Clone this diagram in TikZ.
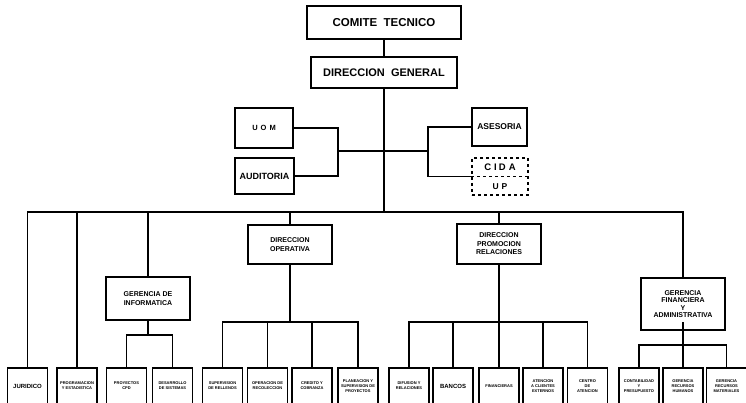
\documentclass[tikz,border=0pt]{standalone}
\usepackage{fontspec}
\setmainfont{Liberation Sans}

\tikzset{
    box/.style={draw, line width=1.2pt, fill=white, align=center, inner sep=1pt, font=\bfseries},
    midbox/.style={box, minimum width=84pt, font=\fontsize{7}{8.5}\selectfont\bfseries},
    unit/.style={box, minimum width=40pt, minimum height=36pt, font=\fontsize{4}{5.2}\selectfont\bfseries},
    link/.style={line width=1.2pt}
}

\begin{document}
\begin{tikzpicture}[x=1pt, y=-1pt]
            \clip (0,0) rectangle (746,403);

            %top of the chart
            \node[box, minimum width=154pt, minimum height=33pt, font=\fontsize{11.5}{13}\selectfont\bfseries] (comite) at (384,22.5) {COMITE\ \ TECNICO};
            \node[box, minimum width=146pt, minimum height=31pt, font=\fontsize{11}{13}\selectfont\bfseries] (dg) at (384,72.5) {DIRECCION\ \ GENERAL};

            %staff boxes
            \node[box, minimum width=58pt, minimum height=40pt, font=\fontsize{7.5}{9}\selectfont\bfseries] (uom) at (264,128) {U\hspace{3pt}O\hspace{3pt}M};
            \node[box, minimum width=59pt, minimum height=36pt, font=\fontsize{9}{10}\selectfont\bfseries] (aud) at (264.5,176) {AUDITORIA};
            \node[box, minimum width=55pt, minimum height=38pt, font=\fontsize{8.5}{10}\selectfont\bfseries] (ase) at (499.5,127) {ASESORIA};
            \node[box, dashed, minimum width=56pt, minimum height=37pt] (cida) at (500,176.5) {};
            \draw[dashed, line width=1.2pt] (cida.west) -- (cida.east);
            \node[font=\fontsize{9.5}{11}\selectfont\bfseries] (cidatxt) at (500,167.5) {C\hspace{3pt}I\hspace{2pt}D\hspace{3pt}A};
            \node[font=\fontsize{8.5}{10}\selectfont\bfseries] (uptxt) at (500,186.5) {U\hspace{3pt}P};

            %second level
            \node[midbox, minimum height=43pt] (ginf) at (148,298.5) {GERENCIA DE\\INFORMATICA};
            \node[midbox, minimum height=39pt] (dop) at (290,244.5) {DIRECCION\\OPERATIVA};
            \node[midbox, minimum height=40pt] (dpr) at (499,244) {DIRECCION\\PROMOCION\\RELACIONES};
            \node[midbox, minimum height=52pt, font=\fontsize{7}{7.5}\selectfont\bfseries] (gfa) at (683,304) {GERENCIA\\FINANCIERA\\Y\\ADMINISTRATIVA};

            %units at the bottom
            \foreach \px/\nm/\txt in {
                27.5/jur/{\fontsize{6}{7}\selectfont JURIDICO},
                77/prog/{PROGRAMACION\\Y ESTADISTICA},
                126.5/pcpd/{PROYECTOS\\CPD},
                172.5/dsis/{DESARROLLO\\DE SISTEMAS},
                222.5/oa/{SUPERVISION\\DE RELLENOS},
                267.5/ob/{OPERACION DE\\RECOLECCION},
                312/oc/{CREDITO Y\\COBRANZA},
                358/od/{PLANEACION Y\\SUPERVISION DE\\PROYECTOS},
                409/pa/{DIFUSION Y\\RELACIONES},
                453/pb/{\fontsize{6}{7}\selectfont BANCOS},
                499/pc/{FINANCIERAS},
                543/pd/{ATENCION\\A CLIENTES\\EXTERNOS},
                587.5/pe/{CENTRO\\DE\\ATENCION},
                639/fa/{CONTABILIDAD\\Y\\PRESUPUESTO},
                683/fb/{GERENCIA\\RECURSOS\\HUMANOS},
                726.5/fc/{GERENCIA\\RECURSOS\\MATERIALES}}
            {
                \node[unit] (\nm) at (\px,386) {\txt};
            }

            %main line
            \coordinate (bus) at (384,212);
            \draw[link] (comite) -- (dg);
            \draw[link] (dg) -- (bus);
            \draw[link] (jur.north) -- (jur.north |- bus) -- (gfa.north |- bus) -- (gfa.north);
            \foreach \n in {prog, ginf, dop, dpr}
            {
                \draw[link] (\n.north) -- (\n.north |- bus);
            }

            %staff lines
            \coordinate (lj) at (338,151);
            \coordinate (rj) at (428,151);
            \draw[link] (uom.east) -| (lj) |- (aud.east);
            \draw[link] (ase.west) -| (rj) |- (cida.west);
            \draw[link] (lj) -- (rj);

            %sub lines
            \coordinate (infbus) at (148,335);
            \coordinate (opbus) at (290,322);
            \coordinate (prbus) at (499,322);
            \coordinate (fabus) at (683,345);
            \draw[link] (ginf) -- (infbus);
            \draw[link] (pcpd.north) -- (pcpd.north |- infbus) -- (dsis.north |- infbus) -- (dsis.north);
            \draw[link] (dop) -- (opbus);
            \draw[link] (oa.north) -- (oa.north |- opbus) -- (od.north |- opbus) -- (od.north);
            \draw[link] (dpr) -- (prbus);
            \draw[link] (pa.north) -- (pa.north |- prbus) -- (pe.north |- prbus) -- (pe.north);
            \draw[link] (gfa) -- (fabus);
            \draw[link] (fa.north) -- (fa.north |- fabus) -- (fc.north |- fabus) -- (fc.north);
            \foreach \n in {ob, oc, pb, pc, pd, fb}
            {
                \draw[link] (\n.north) -- (\n.north |- opbus);
            }

\end{tikzpicture}
\end{document}
